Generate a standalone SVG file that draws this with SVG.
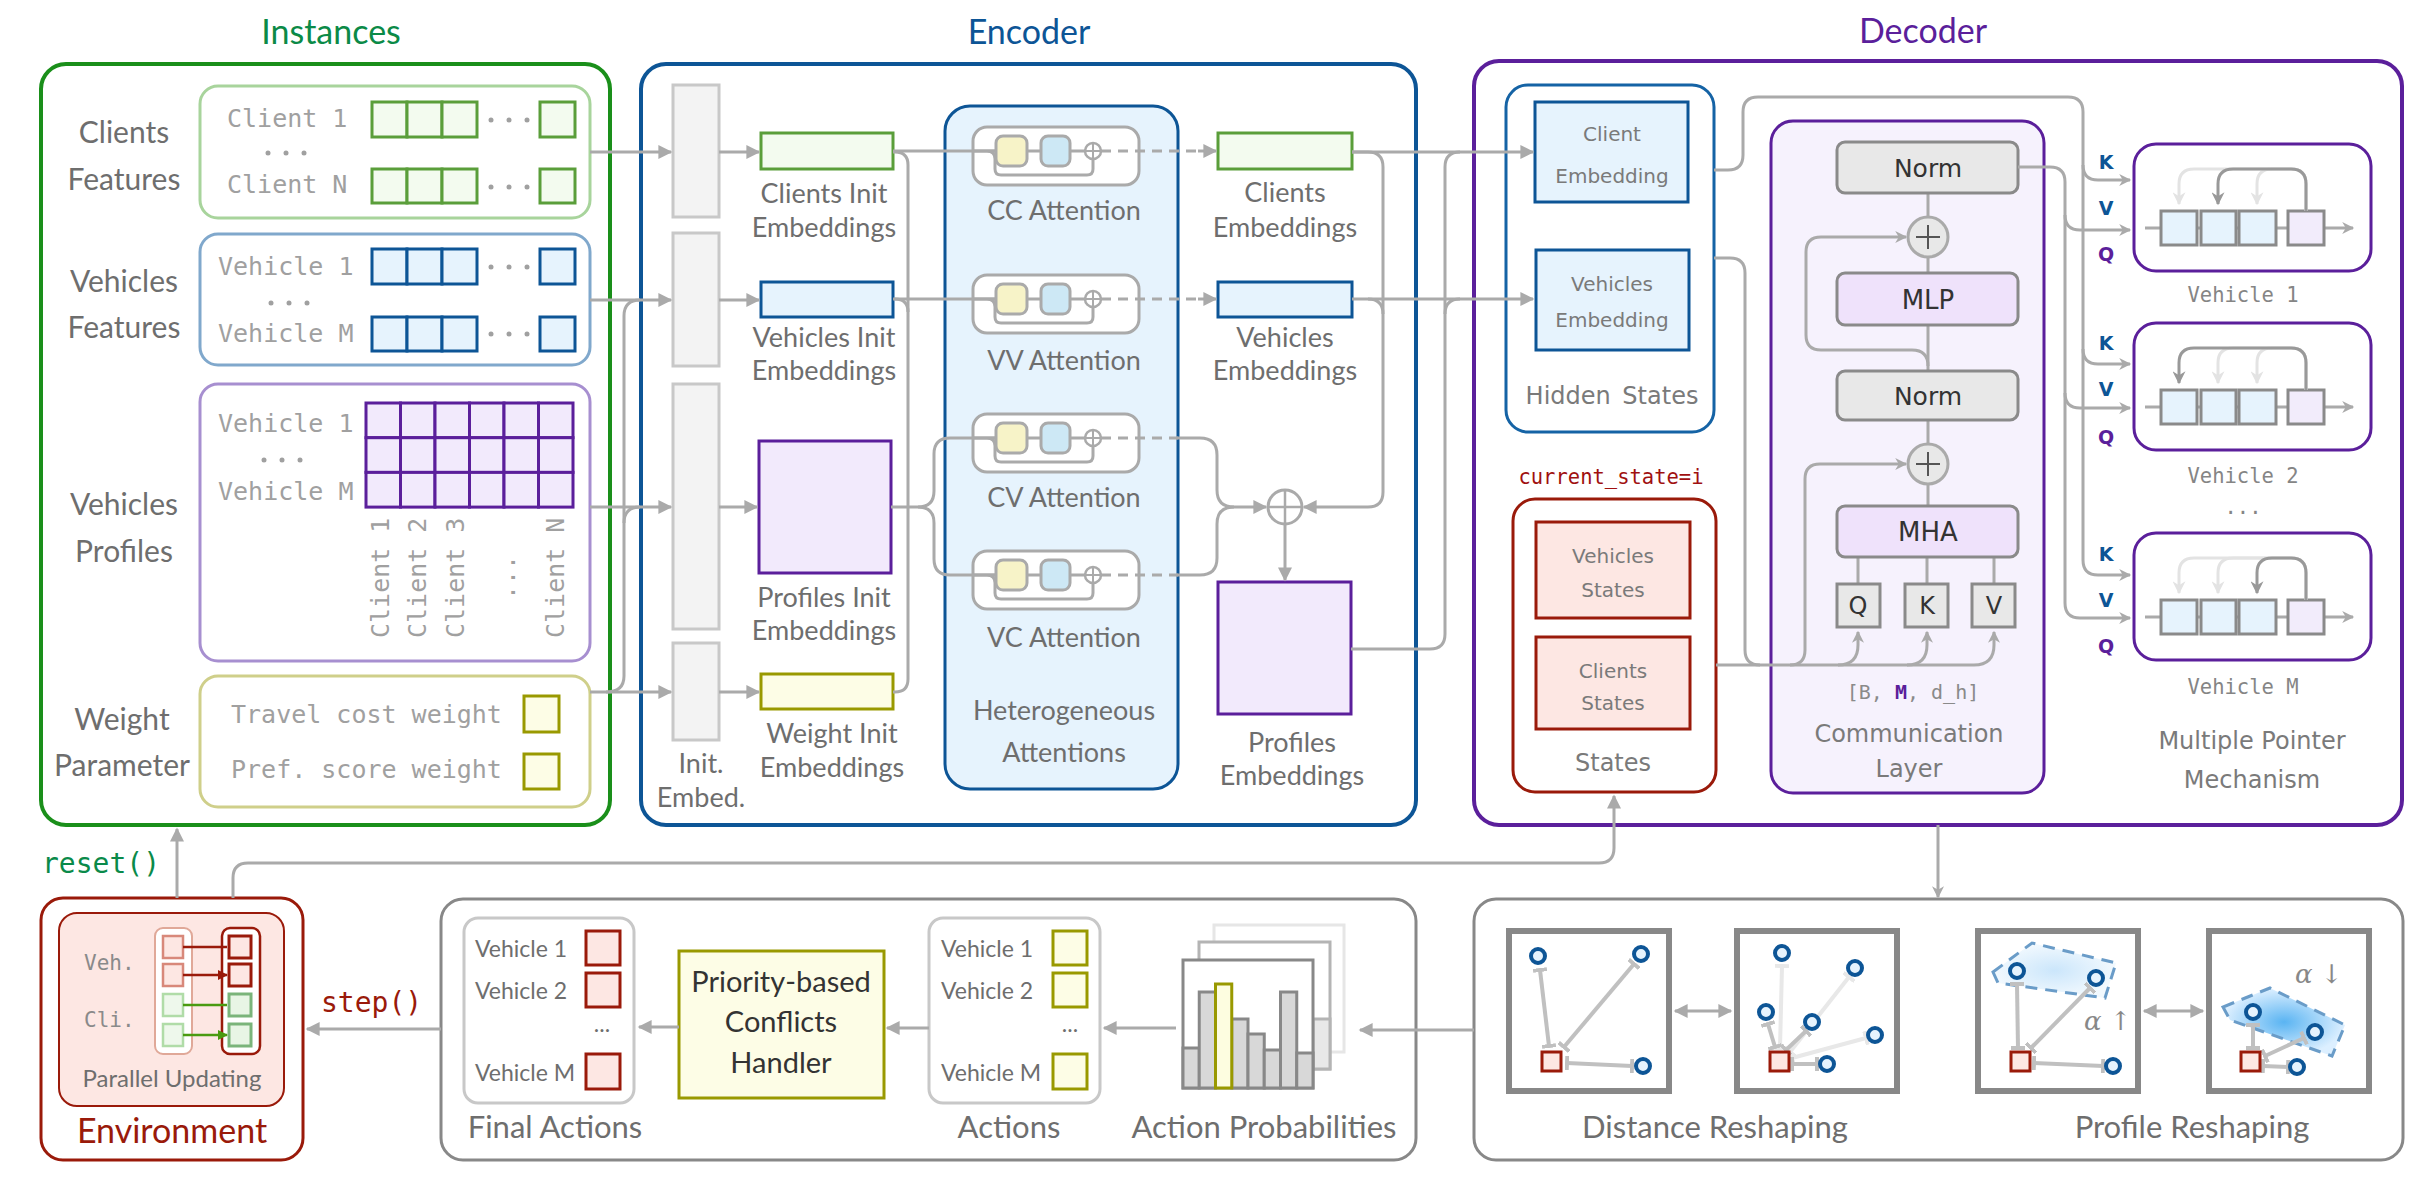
<svg xmlns="http://www.w3.org/2000/svg" width="2433" height="1191" viewBox="0 0 2433 1191">
<style>
.t{font-family:Lato,'Liberation Sans',sans-serif;fill:#6e6e6e}
.m{font-family:'DejaVu Sans Mono','Liberation Mono',monospace}
.d{font-family:'DejaVu Sans',sans-serif}
.mid{text-anchor:middle}
.c{fill:none;stroke:#aaa;stroke-width:3}
.cd{fill:none;stroke:#aaa;stroke-width:3;stroke-dasharray:10 7}
.gc{fill:#f3fbef;stroke:#5a9e3a;stroke-width:3}
.bc{fill:#e6f3fd;stroke:#0d5596;stroke-width:3}
.pc{fill:#f2eafc;stroke:#5b1f9b;stroke-width:3}
.yc{fill:#fdfde6;stroke:#999900;stroke-width:3}
.rc{fill:#fde7e3;stroke:#9a1a0a;stroke-width:3}
.ib{fill:#f3f3f3;stroke:#c8c8c8;stroke-width:3}
.gb{fill:#e8e8e8;stroke:#8a8a8a;stroke-width:3}
.sq{fill:#fff;stroke:#888;stroke-width:6}
.cl{fill:#e6f3fd;stroke:#0d5596;stroke-width:4}
.ln{stroke:#c0c0c0;stroke-width:4;marker-start:url(#tb);marker-end:url(#tb)}
.ll{stroke:#e8e8e8;stroke-width:4;marker-start:url(#tbl);marker-end:url(#tbl)}
.dot{fill:#a0a0a0}
</style>
<defs>
<marker id="ah" viewBox="0 0 10 10" refX="9" refY="5" markerWidth="18" markerHeight="14" markerUnits="userSpaceOnUse" orient="auto-start-reverse"><path d="M0,0 L10,5 L0,10 z" fill="#aaa"/></marker>
<marker id="ahs" viewBox="0 0 10 10" refX="9" refY="5" markerWidth="16" markerHeight="12" markerUnits="userSpaceOnUse" orient="auto-start-reverse"><path d="M0,0 L10,5 L0,10 L3,5 z" fill="#aaa"/></marker>
<marker id="ahd" viewBox="0 0 10 10" refX="9" refY="5" markerWidth="14" markerHeight="13" markerUnits="userSpaceOnUse" orient="auto"><path d="M0,0 L10,5 L0,10 L3,5 z" fill="#999"/></marker>
<marker id="ahl" viewBox="0 0 10 10" refX="9" refY="5" markerWidth="14" markerHeight="13" markerUnits="userSpaceOnUse" orient="auto"><path d="M0,0 L10,5 L0,10 L3,5 z" fill="#e3e3e3"/></marker>
<marker id="ahr" viewBox="0 0 10 10" refX="9" refY="5" markerWidth="11" markerHeight="10" markerUnits="userSpaceOnUse" orient="auto"><path d="M0,0 L10,5 L0,10 z" fill="#9a1a0a"/></marker>
<marker id="ahg" viewBox="0 0 10 10" refX="9" refY="5" markerWidth="11" markerHeight="10" markerUnits="userSpaceOnUse" orient="auto"><path d="M0,0 L10,5 L0,10 z" fill="#4a9a10"/></marker>
<marker id="tb" viewBox="0 0 4 14" refX="2" refY="7" markerWidth="4" markerHeight="14" markerUnits="userSpaceOnUse" orient="auto"><rect width="4" height="14" fill="#c0c0c0"/></marker>
<marker id="tbl" viewBox="0 0 4 14" refX="2" refY="7" markerWidth="4" markerHeight="14" markerUnits="userSpaceOnUse" orient="auto"><rect width="4" height="14" fill="#e8e8e8"/></marker>
<radialGradient id="blob1"><stop offset="0" stop-color="#cbe6fb"/><stop offset="1" stop-color="#f2f9fe"/></radialGradient>
<radialGradient id="blob2"><stop offset="0" stop-color="#5ab4f2"/><stop offset="1" stop-color="#dcefff"/></radialGradient>
<g id="attn">
<rect x="0" y="0" width="166" height="58" rx="14" fill="#fff" stroke="#aaa" stroke-width="3"/>
<path d="M0,24 H23 M54,24 H68 M97,24 H112 M14,24 Q22,24 22,32 V42 Q22,48 28,48 H114 Q120,48 120,42 V32" fill="none" stroke="#aaa" stroke-width="3"/>
<rect x="23" y="9" width="31" height="30" rx="7" fill="#f7f3c8" stroke="#aaa" stroke-width="3"/>
<rect x="68" y="9" width="29" height="30" rx="7" fill="#cde8f5" stroke="#aaa" stroke-width="3"/>
<circle cx="120" cy="24" r="8" fill="#fff" stroke="#aaa" stroke-width="2.5"/>
<path d="M112,24 H128 M120,16 V32" stroke="#aaa" stroke-width="2"/>
</g>
<g id="ptr">
<rect x="0" y="0" width="237" height="127" rx="22" fill="#fff" stroke="#5b1f9b" stroke-width="3"/>
<path d="M11,84 H27 M63,84 H67 M102,84 H105 M142,84 H154 M190,84 H219" fill="none" stroke="#aaa" stroke-width="3" marker-end="url(#ahs)"/>
<rect x="27" y="67" width="36" height="34" fill="#e6f3fd" stroke="#8a8a8a" stroke-width="3"/>
<rect x="67" y="67" width="35" height="34" fill="#e6f3fd" stroke="#8a8a8a" stroke-width="3"/>
<rect x="105" y="67" width="37" height="34" fill="#e6f3fd" stroke="#8a8a8a" stroke-width="3"/>
<rect x="154" y="67" width="36" height="34" fill="#f2ecfb" stroke="#8a8a8a" stroke-width="3"/>
</g>
</defs>
<rect width="2433" height="1191" fill="#fff"/>

<g id="instances">
<text class="t mid" x="331" y="44" font-size="34" style="fill:#0b8a47">Instances</text>
<rect x="41" y="64" width="569" height="761" rx="25" fill="#fff" stroke="#1a8f1a" stroke-width="4"/>
</g>
<g id="clients-features">
<rect x="200" y="86" width="390" height="132" rx="18" fill="#fff" stroke="#a8d49c" stroke-width="3"/>
<text class="t mid" x="124" y="143" font-size="30">Clients</text>
<text class="t mid" x="124" y="190" font-size="30">Features</text>
<text class="m" x="227" y="127" font-size="25" fill="#a0a0a0">Client 1</text>
<text class="m" x="227" y="193" font-size="25" fill="#a0a0a0">Client N</text>
<circle class="dot" cx="268" cy="153" r="2.5"/><circle class="dot" cx="286" cy="153" r="2.5"/><circle class="dot" cx="304" cy="153" r="2.5"/>
<rect class="gc" x="372" y="102" width="35" height="35"/><rect class="gc" x="407" y="102" width="35" height="35"/><rect class="gc" x="442" y="102" width="35" height="35"/><rect class="gc" x="540" y="102" width="35" height="35"/>
<rect class="gc" x="372" y="169" width="35" height="34"/><rect class="gc" x="407" y="169" width="35" height="34"/><rect class="gc" x="442" y="169" width="35" height="34"/><rect class="gc" x="540" y="169" width="35" height="34"/>
<circle class="dot" cx="491" cy="120" r="2.5"/><circle class="dot" cx="509" cy="120" r="2.5"/><circle class="dot" cx="527" cy="120" r="2.5"/>
<circle class="dot" cx="491" cy="187" r="2.5"/><circle class="dot" cx="509" cy="187" r="2.5"/><circle class="dot" cx="527" cy="187" r="2.5"/>
</g>
<g id="vehicles-features">
<rect x="200" y="234" width="390" height="131" rx="18" fill="#fff" stroke="#80a8cc" stroke-width="3"/>
<text class="t mid" x="124" y="292" font-size="30">Vehicles</text>
<text class="t mid" x="124" y="338" font-size="30">Features</text>
<text class="m" x="218" y="275" font-size="25" fill="#a0a0a0">Vehicle 1</text>
<text class="m" x="218" y="342" font-size="25" fill="#a0a0a0">Vehicle M</text>
<circle class="dot" cx="271" cy="303" r="2.5"/><circle class="dot" cx="289" cy="303" r="2.5"/><circle class="dot" cx="307" cy="303" r="2.5"/>
<rect class="bc" x="372" y="249" width="35" height="35"/><rect class="bc" x="407" y="249" width="35" height="35"/><rect class="bc" x="442" y="249" width="35" height="35"/><rect class="bc" x="540" y="249" width="35" height="35"/>
<rect class="bc" x="372" y="317" width="35" height="34"/><rect class="bc" x="407" y="317" width="35" height="34"/><rect class="bc" x="442" y="317" width="35" height="34"/><rect class="bc" x="540" y="317" width="35" height="34"/>
<circle class="dot" cx="491" cy="267" r="2.5"/><circle class="dot" cx="509" cy="267" r="2.5"/><circle class="dot" cx="527" cy="267" r="2.5"/>
<circle class="dot" cx="491" cy="334" r="2.5"/><circle class="dot" cx="509" cy="334" r="2.5"/><circle class="dot" cx="527" cy="334" r="2.5"/>
</g>
<g id="vehicles-profiles">
<rect x="200" y="384" width="390" height="277" rx="18" fill="#fff" stroke="#a78fd0" stroke-width="3"/>
<text class="t mid" x="124" y="515" font-size="30">Vehicles</text>
<text class="t mid" x="124" y="562" font-size="30">Profiles</text>
<text class="m" x="218" y="432" font-size="25" fill="#a0a0a0">Vehicle 1</text>
<text class="m" x="218" y="500" font-size="25" fill="#a0a0a0">Vehicle M</text>
<circle class="dot" cx="264" cy="460" r="2.5"/><circle class="dot" cx="282" cy="460" r="2.5"/><circle class="dot" cx="300" cy="460" r="2.5"/>
<g class="pc">
<rect x="366" y="403" width="34.5" height="34.7"/><rect x="400.5" y="403" width="34.5" height="34.7"/><rect x="435" y="403" width="34.5" height="34.7"/><rect x="469.5" y="403" width="34.5" height="34.7"/><rect x="504" y="403" width="34.5" height="34.7"/><rect x="538.5" y="403" width="34.5" height="34.7"/>
<rect x="366" y="437.7" width="34.5" height="34.7"/><rect x="400.5" y="437.7" width="34.5" height="34.7"/><rect x="435" y="437.7" width="34.5" height="34.7"/><rect x="469.5" y="437.7" width="34.5" height="34.7"/><rect x="504" y="437.7" width="34.5" height="34.7"/><rect x="538.5" y="437.7" width="34.5" height="34.7"/>
<rect x="366" y="472.4" width="34.5" height="34.7"/><rect x="400.5" y="472.4" width="34.5" height="34.7"/><rect x="435" y="472.4" width="34.5" height="34.7"/><rect x="469.5" y="472.4" width="34.5" height="34.7"/><rect x="504" y="472.4" width="34.5" height="34.7"/><rect x="538.5" y="472.4" width="34.5" height="34.7"/>
</g>
<g class="m" font-size="25" fill="#a0a0a0">
<text transform="translate(389,638) rotate(-90)">Client 1</text>
<text transform="translate(426,638) rotate(-90)">Client 2</text>
<text transform="translate(464,638) rotate(-90)">Client 3</text>
<text transform="translate(515,600) rotate(-90)">...</text>
<text transform="translate(564,638) rotate(-90)">Client N</text>
</g>
</g>
<g id="weight-parameter">
<rect x="200" y="676" width="390" height="131" rx="18" fill="#fff" stroke="#cfcf8a" stroke-width="3"/>
<text class="t mid" x="122" y="730" font-size="30">Weight</text>
<text class="t mid" x="122" y="776" font-size="30">Parameter</text>
<text class="m" x="231" y="723" font-size="25" fill="#a0a0a0">Travel cost weight</text>
<text class="m" x="231" y="778" font-size="25" fill="#a0a0a0">Pref. score weight</text>
<rect class="yc" x="524" y="696" width="35" height="36"/>
<rect class="yc" x="524" y="754" width="35" height="35"/>
</g>

<g id="encoder">
<text class="t mid" x="1029" y="44" font-size="34" style="fill:#0d5596">Encoder</text>
<rect x="641" y="64" width="775" height="761" rx="25" fill="#fff" stroke="#0d5596" stroke-width="4"/>
</g>
<g id="init-embed">
<rect class="ib" x="673" y="85" width="46" height="132"/>
<rect class="ib" x="673" y="233" width="46" height="133"/>
<rect class="ib" x="673" y="384" width="46" height="245"/>
<rect class="ib" x="673" y="643" width="46" height="97"/>
<text class="t mid" x="701" y="773" font-size="27">Init.</text>
<text class="t mid" x="701" y="807" font-size="27">Embed.</text>
</g>
<g id="clients-init">
<rect class="gc" x="761" y="133" width="132" height="36"/>
<text class="t mid" x="824" y="203" font-size="27">Clients Init</text>
<text class="t mid" x="824" y="237" font-size="27">Embeddings</text>
</g>
<g id="vehicles-init">
<rect class="bc" x="761" y="282" width="132" height="35"/>
<text class="t mid" x="824" y="347" font-size="27">Vehicles Init</text>
<text class="t mid" x="824" y="380" font-size="27">Embeddings</text>
</g>
<g id="profiles-init">
<rect class="pc" x="759" y="441" width="132" height="132"/>
<text class="t mid" x="824" y="607" font-size="27">Profiles Init</text>
<text class="t mid" x="824" y="640" font-size="27">Embeddings</text>
</g>
<g id="weight-init">
<rect class="yc" x="761" y="674" width="132" height="35"/>
<text class="t mid" x="832" y="743" font-size="27">Weight Init</text>
<text class="t mid" x="832" y="777" font-size="27">Embeddings</text>
</g>
<g id="heterogeneous-attentions">
<rect x="945" y="106" width="233" height="683" rx="25" fill="#e6f3fd" stroke="#0d5596" stroke-width="3"/>
<use href="#attn" x="973" y="127"/>
<use href="#attn" x="973" y="275"/>
<use href="#attn" x="973" y="414"/>
<use href="#attn" x="973" y="551"/>
<text class="t mid" x="1064" y="220" font-size="27">CC Attention</text>
<text class="t mid" x="1064" y="370" font-size="27">VV Attention</text>
<text class="t mid" x="1064" y="507" font-size="27">CV Attention</text>
<text class="t mid" x="1064" y="647" font-size="27">VC Attention</text>
<text class="t mid" x="1064" y="720" font-size="27">Heterogeneous</text>
<text class="t mid" x="1064" y="762" font-size="27">Attentions</text>
</g>
<g id="clients-emb">
<rect class="gc" x="1218" y="133" width="134" height="36"/>
<text class="t mid" x="1285" y="202" font-size="27">Clients</text>
<text class="t mid" x="1285" y="237" font-size="27">Embeddings</text>
</g>
<g id="vehicles-emb">
<rect class="bc" x="1218" y="282" width="134" height="35"/>
<text class="t mid" x="1285" y="347" font-size="27">Vehicles</text>
<text class="t mid" x="1285" y="380" font-size="27">Embeddings</text>
</g>
<g id="profiles-emb">
<rect class="pc" x="1218" y="582" width="133" height="132"/>
<text class="t mid" x="1292" y="752" font-size="27">Profiles</text>
<text class="t mid" x="1292" y="785" font-size="27">Embeddings</text>
</g>
<g id="sum">
<circle cx="1285" cy="507" r="17" fill="#fff" stroke="#aaa" stroke-width="3"/>
<path d="M1268,507 H1302 M1285,490 V524" stroke="#aaa" stroke-width="2.5"/>
</g>

<g id="decoder">
<text class="t mid" x="1923" y="43" font-size="34" style="fill:#5b1f9b">Decoder</text>
<rect x="1474" y="61" width="928" height="764" rx="25" fill="#fff" stroke="#5b1f9b" stroke-width="4"/>
</g>
<g id="hidden-states">
<rect x="1506" y="85" width="208" height="347" rx="22" fill="#fff" stroke="#1563a5" stroke-width="3"/>
<rect class="bc" x="1535" y="102" width="153" height="100"/>
<text class="d mid" x="1612" y="141" font-size="20" fill="#7a7a7a">Client</text>
<text class="d mid" x="1612" y="183" font-size="20" fill="#7a7a7a">Embedding</text>
<rect class="bc" x="1536" y="250" width="153" height="100"/>
<text class="d mid" x="1612" y="291" font-size="20" fill="#7a7a7a">Vehicles</text>
<text class="d mid" x="1612" y="327" font-size="20" fill="#7a7a7a">Embedding</text>
<text class="d mid" x="1612" y="404" font-size="24" fill="#7a7a7a" word-spacing="4">Hidden States</text>
</g>
<g id="states">
<text class="m mid" x="1611" y="484" font-size="20.5" fill="#a01010">current_state=i</text>
<rect x="1513" y="499" width="203" height="293" rx="22" fill="#fff" stroke="#9a1a0a" stroke-width="3"/>
<rect class="rc" x="1536" y="522" width="154" height="96"/>
<text class="d mid" x="1613" y="563" font-size="20" fill="#7a7a7a">Vehicles</text>
<text class="d mid" x="1613" y="597" font-size="20" fill="#7a7a7a">States</text>
<rect class="rc" x="1536" y="637" width="154" height="92"/>
<text class="d mid" x="1613" y="678" font-size="20" fill="#7a7a7a">Clients</text>
<text class="d mid" x="1613" y="710" font-size="20" fill="#7a7a7a">States</text>
<text class="d mid" x="1613" y="771" font-size="24" fill="#7a7a7a">States</text>
</g>
<g id="communication-layer">
<rect x="1771" y="121" width="273" height="672" rx="22" fill="#f6f2fd" stroke="#5b1f9b" stroke-width="3"/>
<path d="M1928,193 V217 M1928,257 V273 M1928,325 V371 M1928,420 V444 M1928,484 V506 M1858,557 V584 M1927,557 V584 M1994,557 V584" stroke="#aaa" stroke-width="3"/>
<rect class="gb" x="1837" y="142" width="181" height="51" rx="8"/>
<text class="d mid" x="1928" y="177" font-size="25" fill="#333">Norm</text>
<circle cx="1928" cy="237" r="20" fill="#e8e8e8" stroke="#aaa" stroke-width="3"/>
<path d="M1916,237 H1940 M1928,225 V249" stroke="#555" stroke-width="2"/>
<rect x="1837" y="273" width="181" height="52" rx="8" fill="#efe2fb" stroke="#8a8a8a" stroke-width="3"/>
<text class="d mid" x="1928" y="309" font-size="26" fill="#333">MLP</text>
<rect class="gb" x="1837" y="371" width="181" height="49" rx="8"/>
<text class="d mid" x="1928" y="405" font-size="25" fill="#333">Norm</text>
<circle cx="1928" cy="464" r="20" fill="#e8e8e8" stroke="#aaa" stroke-width="3"/>
<path d="M1916,464 H1940 M1928,452 V476" stroke="#555" stroke-width="2"/>
<rect x="1837" y="506" width="181" height="51" rx="8" fill="#efe2fb" stroke="#8a8a8a" stroke-width="3"/>
<text class="d mid" x="1928" y="541" font-size="26" fill="#333">MHA</text>
<rect class="gb" x="1837" y="584" width="43" height="43"/>
<rect class="gb" x="1905" y="584" width="43" height="43"/>
<rect class="gb" x="1972" y="584" width="43" height="43"/>
<text class="d mid" x="1858" y="614" font-size="24" fill="#333">Q</text>
<text class="d mid" x="1927" y="614" font-size="24" fill="#333">K</text>
<text class="d mid" x="1994" y="614" font-size="24" fill="#333">V</text>
<text class="m mid" x="1913" y="699" font-size="20" fill="#8a8a8a">[B, <tspan fill="#5b1f9b" font-weight="bold">M</tspan>, d_h]</text>
<text class="d mid" x="1909" y="742" font-size="24" fill="#7a7a7a">Communication</text>
<text class="d mid" x="1909" y="777" font-size="24" fill="#7a7a7a">Layer</text>
</g>
<g id="multiple-pointer">
<use href="#ptr" x="2134" y="144"/>
<use href="#ptr" x="2134" y="323"/>
<use href="#ptr" x="2134" y="533"/>
<g fill="none" stroke-width="3">
<path d="M2306,211 V184 Q2306,169 2291,169 H2194 Q2179,169 2179,184 V204" stroke="#e3e3e3" marker-end="url(#ahl)"/>
<path d="M2306,211 V184 Q2306,169 2291,169 H2272 Q2257,169 2257,184 V204" stroke="#e3e3e3" marker-end="url(#ahl)"/>
<path d="M2306,211 V184 Q2306,169 2291,169 H2233 Q2218,169 2218,184 V204" stroke="#999" marker-end="url(#ahd)"/>
<path d="M2306,390 V363 Q2306,348 2291,348 H2233 Q2218,348 2218,363 V383" stroke="#e3e3e3" marker-end="url(#ahl)"/>
<path d="M2306,390 V363 Q2306,348 2291,348 H2272 Q2257,348 2257,363 V383" stroke="#e3e3e3" marker-end="url(#ahl)"/>
<path d="M2306,390 V363 Q2306,348 2291,348 H2194 Q2179,348 2179,363 V383" stroke="#999" marker-end="url(#ahd)"/>
<path d="M2306,600 V573 Q2306,558 2291,558 H2194 Q2179,558 2179,573 V593" stroke="#e3e3e3" marker-end="url(#ahl)"/>
<path d="M2306,600 V573 Q2306,558 2291,558 H2233 Q2218,558 2218,573 V593" stroke="#e3e3e3" marker-end="url(#ahl)"/>
<path d="M2306,600 V573 Q2306,558 2291,558 H2272 Q2257,558 2257,573 V593" stroke="#999" marker-end="url(#ahd)"/>
</g>
<g class="m mid" font-size="20.5" fill="#858585">
<text x="2243" y="302">Vehicle 1</text>
<text x="2243" y="483">Vehicle 2</text>
<text x="2243" y="514">...</text>
<text x="2243" y="694">Vehicle M</text>
</g>
<g class="d" font-size="19" font-weight="bold">
<text x="2106" y="169" fill="#0d5596" text-anchor="middle">K</text>
<text x="2106" y="215" fill="#0d5596" text-anchor="middle">V</text>
<text x="2106" y="261" fill="#5b1f9b" text-anchor="middle">Q</text>
<text x="2106" y="350" fill="#0d5596" text-anchor="middle">K</text>
<text x="2106" y="396" fill="#0d5596" text-anchor="middle">V</text>
<text x="2106" y="444" fill="#5b1f9b" text-anchor="middle">Q</text>
<text x="2106" y="561" fill="#0d5596" text-anchor="middle">K</text>
<text x="2106" y="607" fill="#0d5596" text-anchor="middle">V</text>
<text x="2106" y="653" fill="#5b1f9b" text-anchor="middle">Q</text>
</g>
<text class="d mid" x="2252" y="749" font-size="24" fill="#7a7a7a">Multiple Pointer</text>
<text class="d mid" x="2252" y="788" font-size="24" fill="#7a7a7a">Mechanism</text>
</g>

<g id="environment">
<rect x="41" y="898" width="262" height="262" rx="22" fill="#fff" stroke="#9a1a0a" stroke-width="3"/>
<rect x="59" y="913" width="225" height="193" rx="18" fill="#fde7e3" stroke="#9a1a0a" stroke-width="2"/>
<text class="m" x="84" y="970" font-size="21" fill="#8a8a8a">Veh.</text>
<text class="m" x="84" y="1027" font-size="21" fill="#8a8a8a">Cli.</text>
<rect x="155" y="928" width="37" height="126" rx="8" fill="#fff" stroke="#e0a898" stroke-width="2"/>
<rect x="222" y="928" width="38" height="126" rx="8" fill="#fff" stroke="#9a1a0a" stroke-width="2.5"/>
<rect x="163" y="936" width="20" height="22" fill="#fde7e3" stroke="#d8887a" stroke-width="2.5"/>
<rect x="163" y="964" width="20" height="22" fill="#fde7e3" stroke="#d8887a" stroke-width="2.5"/>
<rect x="163" y="994" width="20" height="22" fill="#eef8ec" stroke="#b0dca8" stroke-width="2.5"/>
<rect x="163" y="1024" width="20" height="22" fill="#eef8ec" stroke="#b0dca8" stroke-width="2.5"/>
<rect x="229" y="936" width="22" height="22" fill="#fde7e3" stroke="#9a1a0a" stroke-width="3"/>
<rect x="229" y="964" width="22" height="22" fill="#fde7e3" stroke="#9a1a0a" stroke-width="3"/>
<rect x="229" y="994" width="22" height="22" fill="#e8f5e5" stroke="#7ab47a" stroke-width="3"/>
<rect x="229" y="1024" width="22" height="22" fill="#e8f5e5" stroke="#7ab47a" stroke-width="3"/>
<path d="M183,947 H227 M183,975 H227" stroke="#9a1a0a" stroke-width="2.5" marker-end="url(#ahr)"/>
<path d="M183,1005 H227 M183,1035 H227" stroke="#4a9a10" stroke-width="2.5" marker-end="url(#ahg)"/>
<text class="t mid" x="172" y="1087" font-size="24">Parallel Updating</text>
<text class="t mid" x="172" y="1143" font-size="34" style="fill:#9a1a0a">Environment</text>
</g>
<g id="labels-io">
<text class="m" x="42" y="873" font-size="28" fill="#0a8a4a">reset()</text>
<text class="m" x="321" y="1012" font-size="28" fill="#9a1a0a">step()</text>
</g>

<g id="action-panel">
<rect x="441" y="899" width="975" height="261" rx="22" fill="#fff" stroke="#888" stroke-width="3"/>
</g>
<g id="final-actions">
<rect x="464" y="918" width="170" height="185" rx="14" fill="#fff" stroke="#c8c8c8" stroke-width="3"/>
<text class="t" x="475" y="957" font-size="23">Vehicle 1</text>
<text class="t" x="475" y="999" font-size="23">Vehicle 2</text>
<text class="t" x="602" y="1032" font-size="23" text-anchor="middle">...</text>
<text class="t" x="475" y="1081" font-size="23">Vehicle M</text>
<rect class="rc" x="586" y="931" width="34" height="34"/>
<rect class="rc" x="586" y="973" width="34" height="34"/>
<rect class="rc" x="586" y="1054" width="34" height="35"/>
<text class="t mid" x="555" y="1138" font-size="31">Final Actions</text>
</g>
<g id="priority-handler">
<rect class="yc" x="679" y="951" width="205" height="147"/>
<text class="t mid" x="781" y="992" font-size="29" style="fill:#333">Priority-based</text>
<text class="t mid" x="781" y="1032" font-size="29" style="fill:#333">Conflicts</text>
<text class="t mid" x="781" y="1073" font-size="29" style="fill:#333">Handler</text>
</g>
<g id="actions">
<rect x="929" y="918" width="171" height="185" rx="14" fill="#fff" stroke="#c8c8c8" stroke-width="3"/>
<text class="t" x="941" y="957" font-size="23">Vehicle 1</text>
<text class="t" x="941" y="999" font-size="23">Vehicle 2</text>
<text class="t" x="1070" y="1032" font-size="23" text-anchor="middle">...</text>
<text class="t" x="941" y="1081" font-size="23">Vehicle M</text>
<rect class="yc" x="1053" y="931" width="34" height="34"/>
<rect class="yc" x="1053" y="973" width="34" height="34"/>
<rect class="yc" x="1053" y="1054" width="34" height="35"/>
<text class="t mid" x="1009" y="1138" font-size="31">Actions</text>
</g>
<g id="action-probabilities">
<rect x="1214" y="925" width="130" height="127" fill="#fff" stroke="#e6e6e6" stroke-width="3"/>
<rect x="1199" y="942" width="131" height="127" fill="#fff" stroke="#b4b4b4" stroke-width="3"/>
<rect x="1313" y="1019" width="17" height="50" fill="#e8e8e8" stroke="#b4b4b4" stroke-width="3"/>
<rect x="1183" y="960" width="130" height="128" fill="#fff" stroke="#888" stroke-width="3"/>
<g fill="#d8d8d8" stroke="#888" stroke-width="3">
<rect x="1183" y="1048" width="16.25" height="40"/>
<rect x="1199.25" y="992" width="16.25" height="96"/>
<rect x="1231.75" y="1019" width="16.25" height="69"/>
<rect x="1248" y="1034" width="16.25" height="54"/>
<rect x="1264.25" y="1050" width="16.25" height="38"/>
<rect x="1280.5" y="992" width="16.25" height="96"/>
<rect x="1296.75" y="1053" width="16.25" height="35"/>
</g>
<rect x="1215.5" y="984" width="16.25" height="104" fill="#fdfde0" stroke="#999900" stroke-width="3"/>
<text class="t mid" x="1264" y="1138" font-size="31">Action Probabilities</text>
</g>

<g id="reshaping-panel">
<rect x="1474" y="899" width="929" height="261" rx="22" fill="#fff" stroke="#888" stroke-width="3"/>
<text class="t mid" x="1715" y="1138" font-size="31">Distance Reshaping</text>
<text class="t mid" x="2192" y="1138" font-size="31">Profile Reshaping</text>
</g>
<g id="distance-before">
<rect class="sq" x="1509" y="931" width="160" height="160"/>
<line class="ln" x1="1540" y1="970" x2="1549" y2="1046"/>
<line class="ln" x1="1634" y1="964" x2="1564" y2="1047"/>
<line class="ln" x1="1567" y1="1063" x2="1632" y2="1066"/>
<rect class="rc" x="1542" y="1052" width="19" height="19"/>
<circle class="cl" cx="1538" cy="956" r="7"/><circle class="cl" cx="1641" cy="954" r="7"/><circle class="cl" cx="1643" cy="1066" r="7"/>
</g>
<g id="distance-after">
<rect class="sq" x="1737" y="931" width="160" height="160"/>
<line class="ll" x1="1782" y1="966" x2="1780" y2="1048"/>
<line class="ll" x1="1849" y1="977" x2="1790" y2="1052"/>
<line class="ll" x1="1866" y1="1038" x2="1792" y2="1058"/>
<line class="ln" x1="1768" y1="1024" x2="1775" y2="1047"/>
<line class="ln" x1="1806" y1="1031" x2="1786" y2="1050"/>
<line class="ln" x1="1792" y1="1064" x2="1817" y2="1064"/>
<rect class="rc" x="1770" y="1052" width="19" height="19"/>
<circle class="cl" cx="1782" cy="953" r="7"/><circle class="cl" cx="1855" cy="968" r="7"/><circle class="cl" cx="1766" cy="1012" r="7"/><circle class="cl" cx="1812" cy="1022" r="7"/><circle class="cl" cx="1875" cy="1035" r="7"/><circle class="cl" cx="1827" cy="1064" r="7"/>
</g>
<g id="profile-before">
<rect class="sq" x="1978" y="931" width="160" height="160"/>
<path d="M1993,972 L2032,943 L2116,963 L2105,998 L1998,983 Z" fill="url(#blob1)" stroke="#6a9cc8" stroke-width="3" stroke-dasharray="12 8"/>
<line class="ln" x1="2017" y1="984" x2="2018" y2="1048"/>
<line class="ln" x1="2090" y1="988" x2="2031" y2="1048"/>
<line class="ln" x1="2034" y1="1063" x2="2103" y2="1066"/>
<rect class="rc" x="2011" y="1052" width="19" height="19"/>
<circle class="cl" cx="2017" cy="971" r="7"/><circle class="cl" cx="2096" cy="978" r="7"/><circle class="cl" cx="2113" cy="1066" r="7"/>
<text x="2084" y="1030" font-family="'DejaVu Serif',serif" font-size="26" fill="#888"><tspan font-style="italic">α</tspan> ↑</text>
</g>
<g id="profile-after">
<rect class="sq" x="2209" y="931" width="160" height="160"/>
<path d="M2223,1007 L2270,988 L2345,1025 L2332,1056 L2230,1020 Z" fill="url(#blob2)" stroke="#6a9cc8" stroke-width="3" stroke-dasharray="12 8"/>
<line class="ln" x1="2253" y1="1025" x2="2253" y2="1048"/>
<line class="ln" x1="2304" y1="1038" x2="2265" y2="1056"/>
<line class="ln" x1="2263" y1="1066" x2="2288" y2="1067"/>
<rect class="rc" x="2241" y="1052" width="19" height="19"/>
<circle class="cl" cx="2253" cy="1012" r="7"/><circle class="cl" cx="2315" cy="1032" r="7"/><circle class="cl" cx="2297" cy="1067" r="7"/>
<text x="2295" y="983" font-family="'DejaVu Serif',serif" font-size="26" fill="#888"><tspan font-style="italic">α</tspan> ↓</text>
</g>

<g id="connectors">
<path class="c" d="M590,152 H671" marker-end="url(#ah)"/>
<path class="c" d="M590,300 H671" marker-end="url(#ah)"/>
<path class="c" d="M590,507 H671" marker-end="url(#ah)"/>
<path class="c" d="M590,692 H671" marker-end="url(#ah)"/>
<path class="c" d="M606,692 Q624,692 624,676 V316 Q624,300 640,300"/>
<path class="c" d="M624,523 Q624,507 640,507"/>
<path class="c" d="M719,152 H759" marker-end="url(#ah)"/>
<path class="c" d="M719,300 H759" marker-end="url(#ah)"/>
<path class="c" d="M719,507 H757" marker-end="url(#ah)"/>
<path class="c" d="M719,692 H759" marker-end="url(#ah)"/>
<path class="c" d="M893,151 H996"/>
<path class="c" d="M893,299 H996"/>
<path class="c" d="M893,152 H895 Q908,152 908,165 V679 Q908,692 895,692 H893"/>
<path class="c" d="M895,299 Q908,299 908,312"/>
<path class="c" d="M891,507 H918 Q934,507 934,491 V454 Q934,438 950,438 H996"/>
<path class="c" d="M918,507 Q934,507 934,523 V559 Q934,575 950,575 H996"/>
<path class="cd" d="M1101,151 H1200"/>
<path class="c" d="M1198,151 H1216" marker-end="url(#ah)"/>
<path class="cd" d="M1101,299 H1200"/>
<path class="c" d="M1198,299 H1216" marker-end="url(#ah)"/>
<path class="cd" d="M1101,438 H1178"/>
<path class="cd" d="M1101,575 H1178"/>
<path class="c" d="M1176,438 H1200 Q1217,438 1217,455 V490 Q1217,507 1234,507 H1266" marker-end="url(#ah)"/>
<path class="c" d="M1176,575 H1200 Q1217,575 1217,558 V524 Q1217,507 1234,507"/>
<path class="c" d="M1352,152 H1368 Q1383,152 1383,167 V492 Q1383,507 1368,507 H1304" marker-end="url(#ah)"/>
<path class="c" d="M1368,299 Q1383,299 1383,314"/>
<path class="c" d="M1285,524 V580" marker-end="url(#ah)"/>
<path class="c" d="M1352,152 H1533" marker-end="url(#ah)"/>
<path class="c" d="M1352,299 H1533" marker-end="url(#ah)"/>
<path class="c" d="M1351,649 H1430 Q1445,649 1445,634 V167 Q1445,152 1460,152"/>
<path class="c" d="M1445,314 Q1445,299 1460,299"/>
<path class="c" d="M1714,170 H1728 Q1743,170 1743,155 V112 Q1743,97 1758,97 H2068 Q2083,97 2083,112 V560 Q2083,575 2098,575 H2130" marker-end="url(#ahs)"/>
<path class="c" d="M2083,165 Q2083,180 2098,180 H2130" marker-end="url(#ahs)"/>
<path class="c" d="M2083,349 Q2083,364 2098,364 H2130" marker-end="url(#ahs)"/>
<path class="c" d="M2018,167 H2050 Q2065,167 2065,182 V603 Q2065,618 2080,618 H2130" marker-end="url(#ahs)"/>
<path class="c" d="M2065,215 Q2065,230 2080,230 H2130" marker-end="url(#ahs)"/>
<path class="c" d="M2065,393 Q2065,408 2080,408 H2130" marker-end="url(#ahs)"/>
<path class="c" d="M1714,258 H1730 Q1745,258 1745,273 V650 Q1745,665 1760,665"/>
<path class="c" d="M1716,665 H1838 Q1858,665 1858,645 V632" marker-end="url(#ahs)"/>
<path class="c" d="M1838,665 H1907 Q1927,665 1927,645 V632" marker-end="url(#ahs)"/>
<path class="c" d="M1907,665 H1974 Q1994,665 1994,645 V632" marker-end="url(#ahs)"/>
<path class="c" d="M1790,665 Q1805,665 1805,650 V479 Q1805,464 1820,464 H1906" marker-end="url(#ahs)"/>
<path class="c" d="M1928,366 Q1928,350 1912,350 H1821 Q1806,350 1806,335 V252 Q1806,237 1821,237 H1906" marker-end="url(#ahs)"/>
<path class="c" d="M233,898 V878 Q233,863 248,863 H1599 Q1614,863 1614,848 V796" marker-end="url(#ah)"/>
<path class="c" d="M177,898 V829" marker-end="url(#ah)"/>
<path class="c" d="M441,1029 H307" marker-end="url(#ah)"/>
<path class="c" d="M1938,825 V897" stroke-width="2.5" marker-end="url(#ahs)"/>
<path class="c" d="M1474,1030 H1360" marker-end="url(#ah)"/>
<path class="c" d="M1176,1028 H1104" marker-end="url(#ah)"/>
<path class="c" d="M929,1028 H887" marker-end="url(#ah)"/>
<path class="c" d="M679,1027 H639" marker-end="url(#ah)"/>
<path class="c" d="M1675,1011 H1731" marker-start="url(#ah)" marker-end="url(#ah)"/>
<path class="c" d="M2144,1011 H2203" marker-start="url(#ah)" marker-end="url(#ah)"/>
</g>
</svg>
